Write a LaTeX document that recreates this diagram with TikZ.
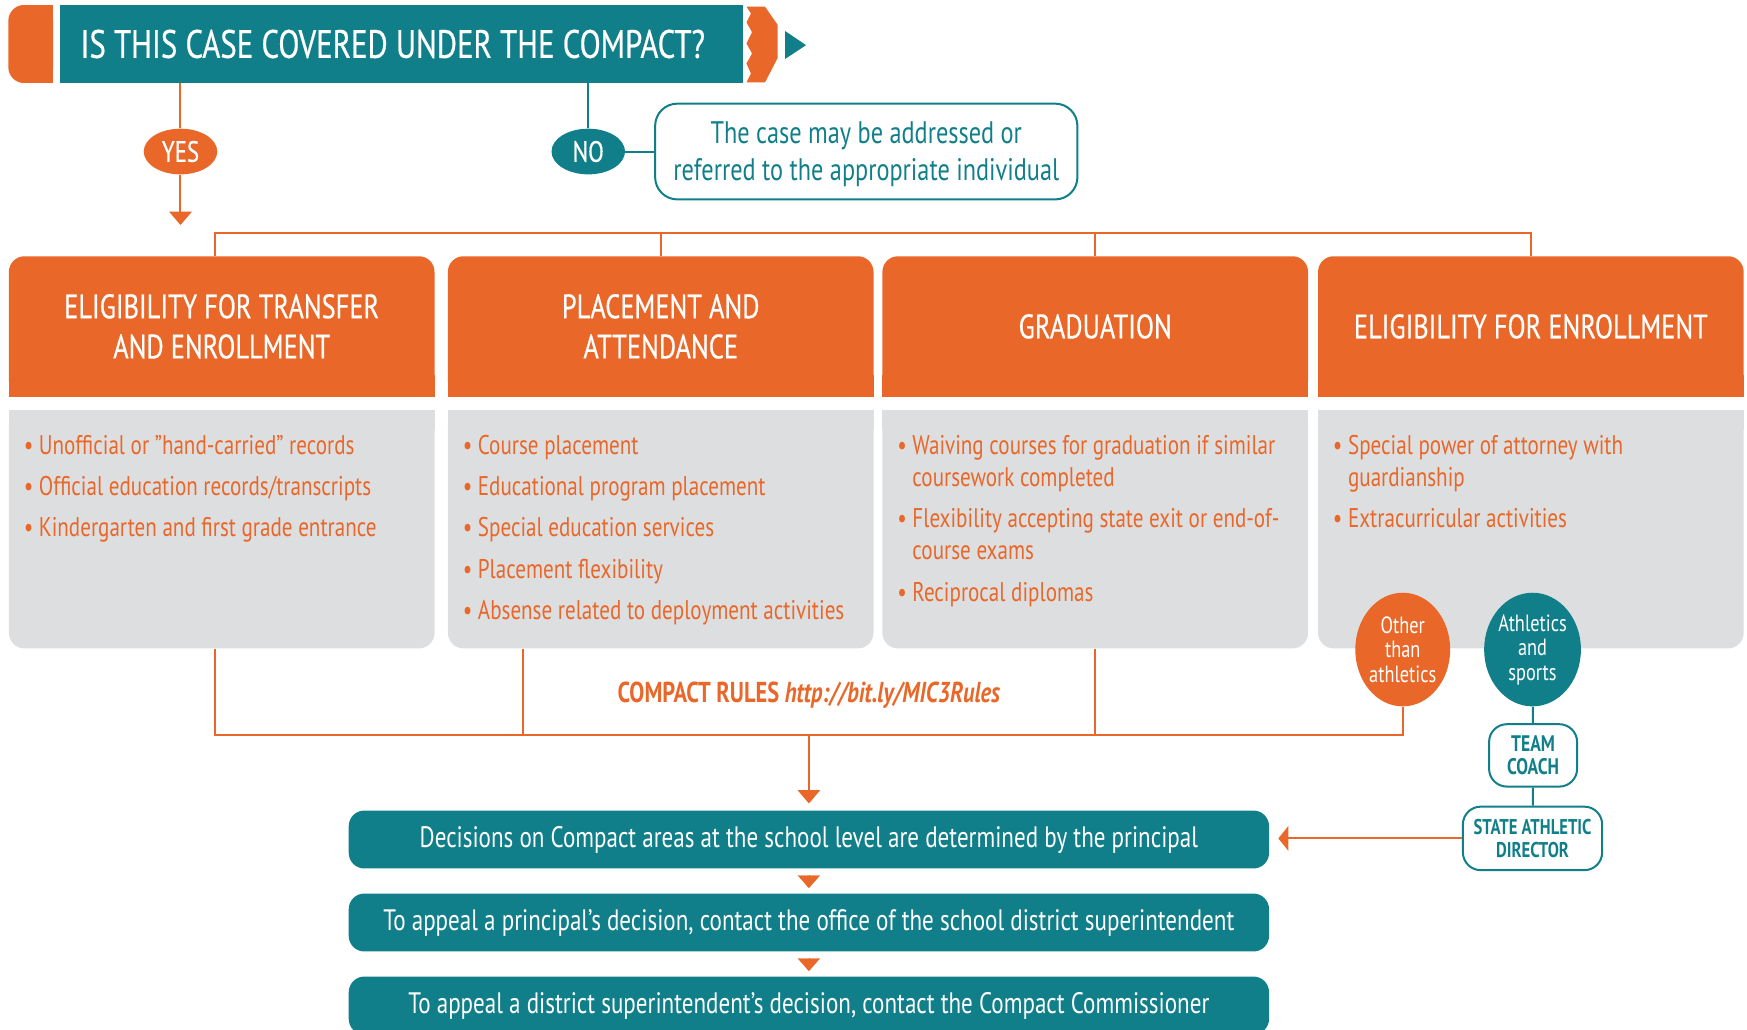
\documentclass[tikz,border=0pt]{standalone}
\usepackage{fontspec}
\setmainfont{PT Sans}[FakeStretch=0.78]
\newfontfamily\mediumfont{PT Sans}[FakeStretch=0.78, FakeBold=0.5]
\usetikzlibrary{positioning,calc,arrows.meta,shapes.geometric}
\definecolor{morange}{RGB}{233,103,40}
\definecolor{mteal}{RGB}{17,127,138}
\definecolor{mgray}{RGB}{221,222,224}
\begin{document}
\begin{tikzpicture}[
                x=0.2mm, y=-0.2mm,
                titlebar/.style={
                    fill=mteal, text=white, minimum width=122.6mm, minimum height=14mm,
                    inner sep=0, font=\mediumfont\fontsize{20.2}{23}\selectfont
                },
                headbox/.style={
                    fill=morange, text=white, rounded corners=2.8mm, align=center,
                    minimum width=76.4mm, minimum height=25.2mm, inner sep=0,
                    font=\mediumfont\fontsize{17.3}{20.5}\selectfont
                },
                bodybox/.style={
                    fill=mgray, rounded corners=2.8mm, minimum width=76.4mm,
                    minimum height=42.8mm, inner sep=0
                },
                bullets/.style={
                    anchor=north west, align=left, text=morange, inner sep=0,
                    font=\fontsize{13.8}{16.5}\selectfont
                },
                decbox/.style={
                    fill=mteal, text=white, rounded corners=2.8mm, minimum width=165.2mm,
                    minimum height=10.4mm, inner sep=0, font=\fontsize{15.1}{17}\selectfont
                },
                outlinebox/.style={
                    draw=mteal, line width=0.36mm, text=mteal, align=center, inner sep=0
                },
                answer/.style={
                    ellipse, text=white, minimum width=13.2mm, minimum height=8.2mm,
                    inner sep=0, font=\mediumfont\fontsize{15}{17}\selectfont
                },
                roundnode/.style={
                    ellipse, text=white, align=center, minimum width=16mm, minimum height=20.4mm,
                    inner sep=0, font=\fontsize{12}{12.5}\selectfont
                },
                oline/.style={draw=morange, line width=0.36mm},
                tline/.style={draw=mteal, line width=0.36mm},
                downtip/.style={-{Triangle[width=4mm,length=2.4mm]}},
                gaptip/.style={
                    draw=morange, line width=0.2pt, -{Triangle[width=4mm,length=2.3mm]},
                    shorten <=1.4mm, shorten >=0.9mm
                }
            ]
            \useasboundingbox (0,0) rectangle (1568,924);

            % question bar
            \fill[morange, rounded corners=2.8mm] (7.5,4.5) rectangle (47.6,74.5);
            \fill[morange] (30,4.5) rectangle (47.6,74.5);
            \node[titlebar] (title) at (360.5,39.5) {IS THIS CASE COVERED UNDER THE COMPACT?\hspace*{3.2mm}};
            \fill[morange] (670,6) -- (686.6,6) -- (698,22.4) -- (698,52) -- (686.6,74) -- (670,74)
                -- (674,66) -- (670,57) -- (675,48) -- (670,39) -- (675,29) -- (670,20) -- (674,12) -- cycle;
            \fill[mteal] (704.6,27.8) -- (723.4,40.5) -- (704.6,53) -- cycle;

            \node[answer, fill=morange] (yes) at (162,136) {YES};
            \node[answer, fill=mteal] (no) at (528,136) {NO};
            \node[outlinebox, rounded corners=4mm, minimum width=75.8mm, minimum height=17.2mm,
                font=\fontsize{15.9}{18.8}\selectfont] (case) at (777.5,136)
                {\rule{0pt}{13.6pt}The case may be addressed or\\referred to the appropriate individual};

            % areas
            \node[headbox] (h1) at (199,293) {ELIGIBILITY FOR TRANSFER\\AND ENROLLMENT};
            \node[headbox] (h2) at (593,293) {PLACEMENT AND\\ATTENDANCE};
            \node[headbox] (h3) at (983,293) {GRADUATION};
            \node[headbox] (h4) at (1374,293) {ELIGIBILITY FOR ENROLLMENT};
            \fill[morange] ($(h1.south west)+(0,-20)$) rectangle (h1.south east);
            \fill[morange] ($(h2.south west)+(0,-20)$) rectangle (h2.south east);
            \fill[morange] ($(h3.south west)+(0,-20)$) rectangle (h3.south east);
            \fill[morange] ($(h4.south west)+(0,-20)$) rectangle (h4.south east);

            \node[bodybox] (b1) at (199,475) {};
            \node[bodybox] (b2) at (593,475) {};
            \node[bodybox] (b3) at (983,475) {};
            \node[bodybox] (b4) at (1374,475) {};
            \fill[mgray] (b1.north west) rectangle ($(b1.north east)+(0,18)$);
            \fill[mgray] (b2.north west) rectangle ($(b2.north east)+(0,18)$);
            \fill[mgray] (b3.north west) rectangle ($(b3.north east)+(0,18)$);
            \fill[mgray] (b4.north west) rectangle ($(b4.north east)+(0,18)$);

            \node[bullets] (t1) at (21,390) {\textbullet\ Unofficial or ”hand-carried” records\\[4.6pt]
                \textbullet\ Official education records/transcripts\\[4.6pt]
                \textbullet\ Kindergarten and first grade entrance};
            \node[bullets] (t2) at (415,390) {\textbullet\ Course placement\\[4.6pt]
                \textbullet\ Educational program placement\\[4.6pt]
                \textbullet\ Special education services\\[4.6pt]
                \textbullet\ Placement flexibility\\[4.6pt]
                \textbullet\ Absense related to deployment activities};
            \node[bullets] (t3) at (805,390) {\textbullet\ Waiving courses for graduation if similar\\
                \hphantom{\textbullet\ }coursework completed\\[4.6pt]
                \textbullet\ Flexibility accepting state exit or end-of-\\
                \hphantom{\textbullet\ }course exams\\[4.6pt]
                \textbullet\ Reciprocal diplomas};
            \node[bullets] (t4) at (1196,390) {\textbullet\ Special power of attorney with\\
                \hphantom{\textbullet\ }guardianship\\[4.6pt]
                \textbullet\ Extracurricular activities};

            \node[roundnode, fill=morange] (oth) at (1259,583) {Other\\than\\athletics};
            \node[roundnode, fill=mteal] (ath) at (1375.5,583) {Athletics\\and\\sports};
            \node[outlinebox, rounded corners=3.2mm, minimum width=15.8mm, minimum height=11.2mm,
                font=\bfseries\fontsize{11.5}{12}\selectfont] (coach) at (1376,678) {TEAM\\COACH};
            \node[outlinebox, rounded corners=3.2mm, minimum width=25mm, minimum height=11.4mm,
                font=\bfseries\fontsize{10.9}{12}\selectfont] (sad) at (1375.5,752.5) {STATE ATHLETIC\\DIRECTOR};

            \node[text=morange, font=\bfseries\fontsize{14.7}{17}\selectfont] (rules) at (726,624)
                {COMPACT RULES \textit{http://bit.ly/MIC3Rules}};

            % decisions
            \node[decbox] (dec1) at (726,753.5) {Decisions on Compact areas at the school level are determined by the principal};
            \node[decbox] (dec2) at (726,828) {To appeal a principal’s decision, contact the office of the school district superintendent};
            \node[decbox] (dec3) at (726,902.5) {To appeal a district superintendent’s decision, contact the Compact Commissioner};

            \coordinate (topbus) at (783,209);
            \coordinate (botbus) at (726,660);
            \coordinate (u1) at ($(h1.north)+(-6,0)$);
            \coordinate (d1) at ($(b1.south)+(-6,0)$);
            \coordinate (d2) at ($(b2.south)+(-124,0)$);

            % connectors
            \draw[oline] (yes.north |- title.south) -- (yes);
            \draw[oline, downtip, shorten >=1.4mm] (yes) -- (yes.south |- topbus);
            \draw[tline] (no.north |- title.south) -- (no);
            \draw[tline] (no) -- (case);
            \draw[oline] (u1) |- (topbus) -| (h4.north);
            \draw[oline] (h2.north) -- (h2.north |- topbus);
            \draw[oline] (h3.north) -- (h3.north |- topbus);
            \draw[oline] (d1) |- (botbus) -| (oth.south);
            \draw[oline] (d2) -- (d2 |- botbus);
            \draw[oline] (b3.south) -- (b3.south |- botbus);
            \draw[oline, downtip, shorten >=1.2mm] (botbus) -- (dec1.north);
            \draw[gaptip] (dec1.south) -- (dec2.north);
            \draw[gaptip] (dec2.south) -- (dec3.north);
            \draw[tline] (ath) -- (coach);
            \draw[tline] (coach) -- (sad);
            \draw[oline, -{Triangle[width=4.4mm,length=1.8mm]}, shorten >=1.6mm] (sad.west) -- (sad.west -| dec1.east);
            \end{tikzpicture}
\end{document}
